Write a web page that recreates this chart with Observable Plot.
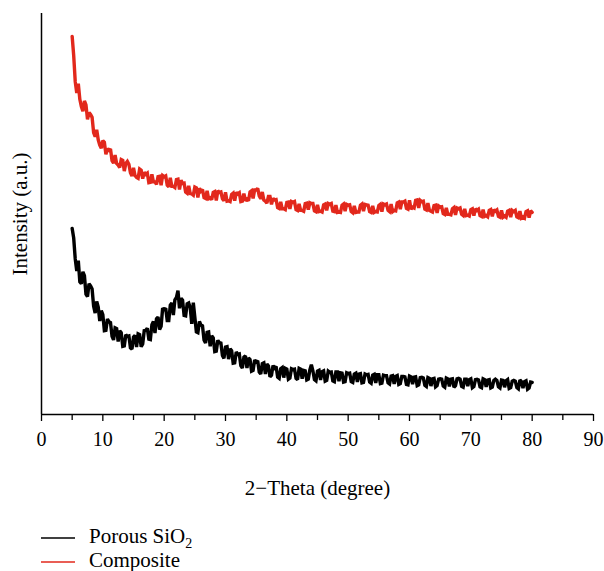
<!DOCTYPE html>
<html>
<head>
<meta charset="utf-8">
<script src="https://cdn.jsdelivr.net/npm/d3@7"></script>
<script src="https://cdn.jsdelivr.net/npm/@observablehq/plot@0.6"></script>
<style>
  html, body { margin: 0; padding: 0; background: #fff; }
  #chart { width: 604px; }
  .legend { font-family: "Liberation Serif", "Times New Roman", serif; font-size: 21px; color: #000; padding-left: 41px; padding-top: 19px; }
  .legend .item { display: flex; align-items: center; height: 24px; }
  .legend svg { margin-right: 14px; }
  .legend sub { font-size: 14px; vertical-align: -5px; line-height: 0; }
</style>
</head>
<body>
<div id="chart"></div>
<script>
// 2-Theta scan grid (degrees)
const thetaStart = 5;
const thetaStep = 0.5;

// Intensity (a.u.) at 5, 5.5, 6, ... 80 degrees
const composite = [
  94.3, 83.0, 82.5, 76.8, 78.2, 73.6, 74.8, 70.3, 71.0, 67.2,
  68.3, 64.9, 65.9, 63.3, 64.7, 62.2, 63.6, 60.7, 63.1, 60.3,
  61.5, 59.1, 61.2, 58.8, 59.9, 57.8, 59.9, 58.0, 59.3, 57.2,
  59.3, 57.2, 59.0, 56.9, 58.6, 56.1, 57.6, 55.5, 57.0, 55.0,
  56.7, 54.1, 55.7, 54.1, 55.8, 54.0, 55.4, 53.4, 55.4, 53.8,
  55.4, 53.3, 54.9, 53.3, 55.0, 53.1, 55.1, 53.7, 55.5, 53.9,
  56.0, 54.5, 55.5, 53.2, 54.4, 52.4, 53.5, 51.6, 53.0, 51.3,
  52.9, 51.3, 52.9, 51.1, 52.5, 50.9, 52.6, 51.1, 52.6, 50.8,
  52.3, 50.7, 52.3, 50.9, 52.4, 50.7, 52.2, 50.5, 52.2, 50.7,
  52.2, 50.6, 52.0, 50.5, 52.2, 50.7, 52.3, 50.6, 52.0, 50.6,
  52.1, 50.6, 52.3, 50.9, 52.5, 50.9, 52.8, 51.2, 53.0, 51.4,
  53.4, 51.7, 53.4, 51.5, 53.1, 51.2, 52.7, 50.7, 52.1, 50.3,
  51.7, 50.1, 51.5, 49.9, 51.3, 49.8, 51.3, 49.9, 51.3, 49.7,
  51.1, 49.6, 50.9, 49.6, 51.1, 49.6, 50.9, 49.4, 50.7, 49.4,
  50.9, 49.5, 50.7, 49.2, 50.6, 49.3, 50.7, 49.3, 50.6, 49.1,
  50.4
];
// Intensity read at the in-between angles 5.25, 5.75, ... 79.75 degrees
const compositeMid = [
  89.5, 80.2, 78.6, 75.6, 77.2, 75.3, 74.1, 69.3, 68.5, 66.4,
  67.9, 66.3, 66.2, 62.7, 62.6, 61.6, 63.4, 62.6, 62.4, 59.5,
  59.6, 58.9, 60.9, 60.4, 60.2, 57.9, 58.0, 57.4, 59.4, 59.6,
  59.5, 56.8, 56.9, 56.6, 58.7, 58.4, 57.7, 55.2, 55.1, 54.7,
  56.5, 56.4, 56.1, 53.9, 53.8, 53.6, 55.6, 55.8, 55.5, 53.3,
  53.2, 53.1, 55.2, 55.4, 55.3, 53.2, 53.3, 53.3, 55.8, 56.0,
  56.4, 53.8, 53.5, 52.7, 54.4, 53.9, 53.6, 51.4, 51.3, 51.1,
  53.0, 53.1, 53.1, 50.9, 50.9, 50.7, 52.7, 52.8, 52.6, 50.6,
  50.6, 50.5, 52.5, 52.6, 52.6, 50.6, 50.4, 50.4, 52.5, 52.4,
  52.3, 50.3, 50.4, 50.5, 52.5, 52.4, 52.2, 50.4, 50.4, 50.5,
  52.4, 52.5, 52.5, 50.6, 50.6, 50.8, 53.0, 53.0, 53.2, 51.2,
  51.2, 51.5, 53.5, 53.4, 53.2, 51.0, 50.9, 50.5, 52.2, 52.0,
  51.8, 49.9, 49.9, 49.8, 51.6, 51.5, 51.5, 49.6, 49.6, 49.5,
  51.3, 51.3, 51.2, 49.4, 49.4, 49.3, 51.1, 51.1, 51.0, 49.2,
  49.2, 49.2, 50.9, 50.9, 50.9, 49.1, 49.0, 49.0, 50.8, 50.8
];
const porousSiO2 = [
  46.4, 38.8, 38.4, 32.6, 34.6, 29.4, 32.1, 27.0, 28.2, 23.3,
  24.9, 21.0, 23.1, 19.5, 21.6, 18.2, 20.4, 17.1, 19.5, 16.6,
  19.3, 16.8, 19.9, 17.6, 21.0, 18.8, 22.4, 20.3, 24.3, 22.0,
  26.2, 23.4, 27.3, 24.8, 29.2, 26.5, 28.5, 24.6, 27.8, 22.6,
  24.3, 20.4, 22.3, 18.6, 20.5, 17.0, 19.1, 15.8, 17.9, 14.7,
  16.8, 13.8, 15.9, 12.9, 15.0, 12.2, 14.3, 11.6, 13.7, 11.0,
  13.1, 10.6, 12.7, 10.1, 12.1, 9.8, 11.6, 9.3, 11.4, 9.2,
  11.3, 9.1, 11.2, 9.0, 11.5, 8.9, 10.9, 8.8, 12.4, 8.7,
  10.8, 8.6, 10.9, 8.5, 10.5, 8.4, 10.6, 8.3, 10.3, 8.2,
  10.2, 8.2, 10.1, 8.1, 10.2, 8.0, 9.9, 8.1, 9.8, 7.9,
  9.9, 7.8, 9.7, 7.9, 9.6, 7.6, 9.7, 7.7, 9.5, 7.5,
  9.6, 7.6, 9.4, 7.4, 9.3, 7.3, 9.2, 7.1, 9.0, 7.2,
  8.9, 7.1, 9.1, 7.0, 8.9, 7.2, 9.0, 7.0, 8.8, 7.1,
  8.9, 7.0, 8.8, 6.9, 8.9, 6.9, 8.7, 6.8, 8.8, 6.9,
  8.6, 6.8, 8.7, 6.7, 8.5, 6.7, 8.6, 6.6, 8.4, 6.6,
  8.0
];
const porousSiO2Mid = [
  44.0, 35.8, 33.1, 35.6, 30.0, 32.6, 31.3, 25.3, 26.8, 25.9,
  20.9, 23.8, 22.9, 18.6, 21.4, 20.9, 17.0, 19.9, 19.6, 16.3,
  19.7, 20.1, 16.9, 20.9, 21.5, 18.7, 23.2, 23.9, 21.2, 26.5,
  26.5, 23.4, 27.8, 28.6, 30.9, 29.0, 24.7, 27.6, 26.6, 27.9,
  20.6, 23.2, 22.1, 17.8, 20.6, 19.6, 15.7, 18.5, 17.8, 14.0,
  16.9, 16.4, 12.8, 15.6, 15.1, 11.6, 14.6, 14.1, 10.8, 13.6,
  13.4, 10.1, 12.9, 12.6, 9.4, 12.2, 12.0, 9.0, 11.7, 11.5,
  8.8, 11.4, 11.3, 8.7, 11.3, 11.0, 8.6, 11.1, 10.9, 8.4,
  11.0, 10.7, 8.3, 10.8, 10.6, 8.2, 10.6, 10.4, 8.1, 10.4,
  10.3, 8.0, 10.3, 10.1, 7.9, 10.1, 10.0, 7.8, 10.0, 9.9,
  7.7, 9.8, 9.7, 7.6, 9.7, 9.5, 7.5, 9.5, 9.4, 7.4,
  9.4, 9.3, 7.2, 9.2, 9.1, 7.0, 9.0, 8.9, 6.9, 8.8,
  8.8, 6.8, 8.9, 8.8, 6.8, 8.9, 8.8, 6.8, 8.8, 8.7,
  6.7, 8.7, 8.6, 6.7, 8.7, 8.6, 6.6, 8.5, 8.5, 6.6,
  8.5, 8.4, 6.5, 8.3, 8.3, 6.4, 8.2, 8.2, 6.3, 8.1
];

const seriesNames = ["Porous SiO2", "Composite"];
const seriesColors = ["#000000", "#e2281c"];
const xTicks = [0, 10, 20, 30, 40, 50, 60, 70, 80, 90];
const xMinorTicks = [5, 15, 25, 35, 45, 55, 65, 75, 85];

const rows = [];
[[porousSiO2, porousSiO2Mid], [composite, compositeMid]].forEach(([main, mid], s) => {
  const pts = [];
  main.forEach((v, i) => pts.push({theta: thetaStart + i * thetaStep, intensity: v, series: seriesNames[s]}));
  mid.forEach((v, i) => pts.push({theta: thetaStart + thetaStep / 2 + i * thetaStep, intensity: v, series: seriesNames[s]}));
  pts.sort((a, b) => a.theta - b.theta);
  rows.push(...pts);
});

const font = '"Liberation Serif", "Times New Roman", serif';

const chart = Plot.plot({
  width: 604,
  height: 505,
  marginLeft: 41,
  marginRight: 11,
  marginTop: 13,
  marginBottom: 91,
  style: {fontFamily: font, fontSize: "20px", color: "#000", background: "#fff"},
  x: {domain: [0, 90]},
  y: {domain: [0, 100]},
  color: {domain: seriesNames, range: seriesColors},
  marks: [
    Plot.line(rows, {x: "theta", y: "intensity", z: "series", stroke: "series", strokeWidth: 3.4, strokeLinejoin: "miter", strokeMiterlimit: 2}),
    Plot.axisX({ticks: xMinorTicks, tickSize: 6, tickFormat: () => "", label: null, strokeWidth: 1.3}),
    Plot.axisX({ticks: xTicks, tickSize: 7, tickPadding: 10, tickFormat: d => String(d), label: null, strokeWidth: 1.3, fontSize: 20}),
    Plot.axisY({ticks: [], label: null}),
    Plot.ruleX([0], {stroke: "#000", strokeWidth: 1.5}),
    Plot.ruleY([0], {stroke: "#000", strokeWidth: 1.5}),
    Plot.text(["Intensity (a.u.)"], {frameAnchor: "left", dx: -21, rotate: -90, fontSize: 21, textAnchor: "middle", lineAnchor: "middle", fill: "#000"}),
    Plot.text(["2\u2212Theta (degree)"], {frameAnchor: "bottom", dy: 74, fontSize: 21, textAnchor: "middle", lineAnchor: "middle", fill: "#000"})
  ]
});
document.getElementById("chart").appendChild(chart);

const legend = document.createElement("div");
legend.className = "legend";
const sw = c => `<svg width="34" height="8" style="position:relative;top:2px"><line x1="0" y1="4" x2="34" y2="4" stroke="${c}" stroke-width="1.5"/></svg>`;
legend.innerHTML =
  `<div class="item">${sw(seriesColors[0])}<span>Porous SiO<sub>2</sub></span></div>` +
  `<div class="item">${sw(seriesColors[1])}<span>${seriesNames[1]}</span></div>`;
document.getElementById("chart").appendChild(legend);
</script>
</body>
</html>
